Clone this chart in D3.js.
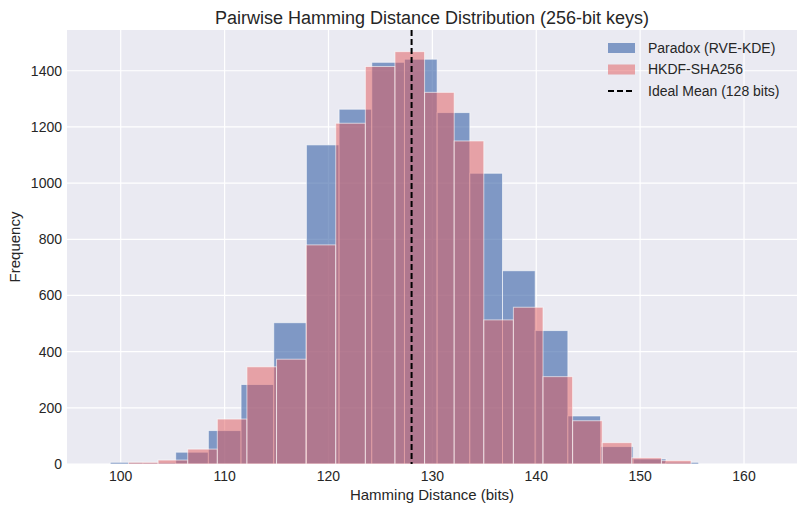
<!DOCTYPE html>
<html>
<head>
<meta charset="utf-8">
<script src="https://cdn.jsdelivr.net/npm/d3@7"></script>
<style>
  body { margin: 0; background: #fff; }
  svg text { font-family: "Liberation Sans", Arial, sans-serif; fill: #262626; }
</style>
</head>
<body>
<script>
// histogram bins (start, width in bits) and counts
const paradoxStart = 99;
const paradoxWidth = 3.146;
const paradoxCounts = [6, 5, 42, 119, 283, 503, 1136, 1263, 1430, 1441, 1251, 1035, 688, 475, 171, 62, 18, 6];

const hkdfStart = 100.75;
const hkdfWidth = 2.85;
const hkdfCounts = [6, 14, 53, 160, 346, 373, 780, 1213, 1415, 1468, 1323, 1150, 513, 558, 311, 154, 76, 22, 12];

const idealMean = 128;
const xTicks = [100, 110, 120, 130, 140, 150, 160];
const yTicks = [0, 200, 400, 600, 800, 1000, 1200, 1400];
const legendItems = ["Paradox (RVE-KDE)", "HKDF-SHA256", "Ideal Mean (128 bits)"];

const width = 806, height = 513;
const margin = { top: 30, right: 9, bottom: 49, left: 67 };
const innerW = width - margin.left - margin.right;
const innerH = height - margin.top - margin.bottom;

const blueFill = "#4C72B0", redFill = "#E15759";

const svg = d3.select("body").append("svg")
  .attr("width", width)
  .attr("height", height);

const g = svg.append("g")
  .attr("transform", `translate(${margin.left},${margin.top})`);

const x = d3.scaleLinear().domain([94.83, 165.1]).range([0, innerW]);
const y = d3.scaleLinear().domain([0, 1545]).range([innerH, 0]);

// background + grid
g.append("rect").attr("width", innerW).attr("height", innerH).attr("fill", "#EAEAF2");

g.append("g").selectAll("line").data(xTicks).enter().append("line")
  .attr("x1", d => x(d)).attr("x2", d => x(d))
  .attr("y1", 0).attr("y2", innerH)
  .attr("stroke", "#fff").attr("stroke-width", 1.2);

g.append("g").selectAll("line").data(yTicks).enter().append("line")
  .attr("x1", 0).attr("x2", innerW)
  .attr("y1", d => y(d)).attr("y2", d => y(d))
  .attr("stroke", "#fff").attr("stroke-width", 1.2);

function toBins(start, w, counts) {
  return counts.map((c, i) => ({ x0: start + i * w, x1: start + (i + 1) * w, count: c }));
}

function drawHist(bins, color, opacity) {
  g.append("g").selectAll("rect").data(bins).enter().append("rect")
    .attr("x", d => x(d.x0))
    .attr("width", d => x(d.x1) - x(d.x0))
    .attr("y", d => y(d.count))
    .attr("height", d => y(0) - y(d.count))
    .attr("fill", color)
    .attr("fill-opacity", opacity)
    .attr("stroke", "#fff")
    .attr("stroke-opacity", 0.6)
    .attr("stroke-width", 1);
}

drawHist(toBins(paradoxStart, paradoxWidth, paradoxCounts), blueFill, 0.68);
drawHist(toBins(hkdfStart, hkdfWidth, hkdfCounts), redFill, 0.5);

// ideal mean line
g.append("line")
  .attr("x1", x(idealMean)).attr("x2", x(idealMean))
  .attr("y1", 0).attr("y2", innerH)
  .attr("stroke", "#000").attr("stroke-width", 2)
  .attr("stroke-dasharray", "6 3");

// tick labels (no tick marks in this style)
g.append("g").selectAll("text").data(xTicks).enter().append("text")
  .attr("x", d => x(d)).attr("y", innerH + 17)
  .attr("text-anchor", "middle")
  .style("font-size", "14px")
  .text(d => d);

g.append("g").selectAll("text").data(yTicks).enter().append("text")
  .attr("x", -5).attr("y", d => y(d)).attr("dy", "0.35em")
  .attr("text-anchor", "end")
  .style("font-size", "14px")
  .text(d => d);

// labels
svg.append("text")
  .attr("x", margin.left + innerW / 2).attr("y", 24)
  .attr("text-anchor", "middle")
  .style("font-size", "18px")
  .text("Pairwise Hamming Distance Distribution (256-bit keys)");

svg.append("text")
  .attr("x", margin.left + innerW / 2).attr("y", 500)
  .attr("text-anchor", "middle")
  .style("font-size", "15px")
  .text("Hamming Distance (bits)");

svg.append("text")
  .attr("transform", `translate(20,${margin.top + innerH / 2}) rotate(-90)`)
  .attr("text-anchor", "middle")
  .style("font-size", "15px")
  .text("Frequency");

// legend
const legend = svg.append("g").attr("transform", "translate(608,48)");
const rowH = 21.5;
legendItems.forEach((label, i) => {
  const row = legend.append("g").attr("transform", `translate(0,${i * rowH})`);
  if (i < 2) {
    row.append("rect")
      .attr("x", 0).attr("y", -5).attr("width", 27).attr("height", 10)
      .attr("fill", i === 0 ? blueFill : redFill)
      .attr("fill-opacity", i === 0 ? 0.68 : 0.5);
  } else {
    row.append("line")
      .attr("x1", 0).attr("x2", 27).attr("y1", 0).attr("y2", 0)
      .attr("stroke", "#000").attr("stroke-width", 2)
      .attr("stroke-dasharray", "6 3");
  }
  row.append("text")
    .attr("x", 40).attr("y", 0).attr("dy", "0.35em")
    .style("font-size", "14px")
    .text(label);
});
</script>
</body>
</html>
